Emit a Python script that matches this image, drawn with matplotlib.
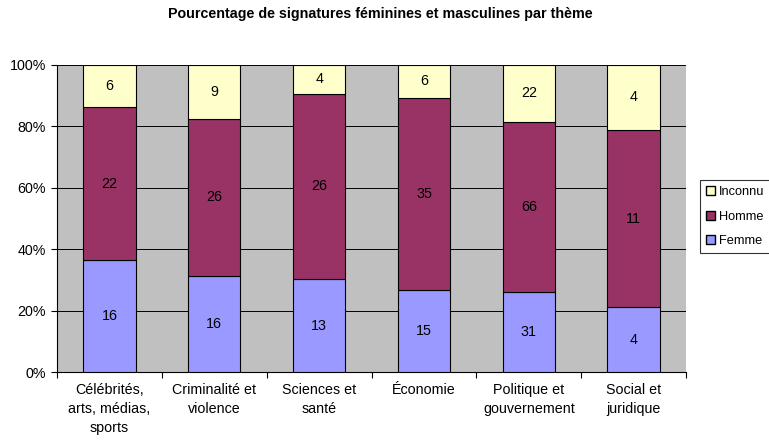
import numpy as np
import matplotlib.pyplot as plt
from matplotlib.patches import Patch

plt.rcParams['font.family'] = ['Liberation Sans', 'DejaVu Sans']

categories = ["Célébrités,\narts, médias,\nsports", "Criminalité et\nviolence", "Sciences et\nsanté",
              "Économie", "Politique et\ngouvernement", "Social et\njuridique"]
femme = np.array([16, 16, 13, 15, 31, 4])
homme = np.array([22, 26, 26, 35, 66, 11])
inconnu = np.array([6, 9, 4, 6, 22, 4])

total = femme + homme + inconnu
pf = femme / total
ph = homme / total
pi = inconnu / total

c_f = '#9999FF'
c_h = '#993366'
c_i = '#FFFFCC'
fs = 10.3

fig = plt.figure(figsize=(7.69, 4.41), dpi=100)
ax = fig.add_axes([57/769, 1 - 372/441, (686 - 57)/769, (372 - 65)/441])
ax.set_facecolor('#C0C0C0')

x = np.arange(len(categories))
w = 0.5
ax.bar(x, pf, w, color=c_f, edgecolor='black', linewidth=0.8, zorder=3)
ax.bar(x, ph, w, bottom=pf, color=c_h, edgecolor='black', linewidth=0.8, zorder=3)
ax.bar(x, pi, w, bottom=pf + ph, color=c_i, edgecolor='black', linewidth=0.8, zorder=3)

for i in range(len(x)):
    ax.text(x[i], pf[i] / 2, str(femme[i]), ha='center', va='center', fontsize=fs, zorder=4)
    ax.text(x[i], pf[i] + ph[i] / 2, str(homme[i]), ha='center', va='center', fontsize=fs, zorder=4)
    ax.text(x[i], pf[i] + ph[i] + pi[i] / 2, str(inconnu[i]), ha='center', va='center', fontsize=fs, zorder=4)

ax.set_xlim(-0.5, len(x) - 0.5)
ax.set_ylim(0, 1)
ax.set_yticks(np.linspace(0, 1, 6))
ax.set_yticklabels(['0%', '20%', '40%', '60%', '80%', '100%'], fontsize=fs)
ax.yaxis.grid(True, color='black', linewidth=0.7, zorder=1)

# category boundaries as major ticks, names as minor ticks
ax.set_xticks(np.arange(len(x) + 1) - 0.5)
ax.set_xticklabels([])
ax.set_xticks(x, minor=True)
ax.set_xticklabels(categories, minor=True, fontsize=fs, linespacing=1.45)
ax.tick_params(axis='x', which='minor', length=0, pad=8)
ax.tick_params(axis='x', which='major', length=4, color='black')
ax.tick_params(axis='y', length=4, color='black', pad=4)

for s in ['top', 'right']:
    ax.spines[s].set_visible(False)
ax.spines['left'].set_color('black')
ax.spines['bottom'].set_color('black')

fig.suptitle('Pourcentage de signatures féminines et masculines par thème',
             fontsize=10.3, fontweight='bold', x=380/769, y=1 - 7/441, va='top')

handles = [Patch(facecolor=c_i, edgecolor='black', label='Inconnu'),
           Patch(facecolor=c_h, edgecolor='black', label='Homme'),
           Patch(facecolor=c_f, edgecolor='black', label='Femme')]
leg = fig.legend(handles=handles, loc='upper left', bbox_to_anchor=(700/769, 1 - 180/441),
                 fontsize=9.2, frameon=True, fancybox=False, edgecolor='black',
                 handlelength=0.7, handleheight=0.7, handletextpad=0.25,
                 labelspacing=0.95, borderpad=0.5, borderaxespad=0)
leg.get_frame().set_linewidth(0.8)
for t in leg.get_texts():
    t.set_fontsize(9.2)

plt.savefig('out.png', dpi=100)
